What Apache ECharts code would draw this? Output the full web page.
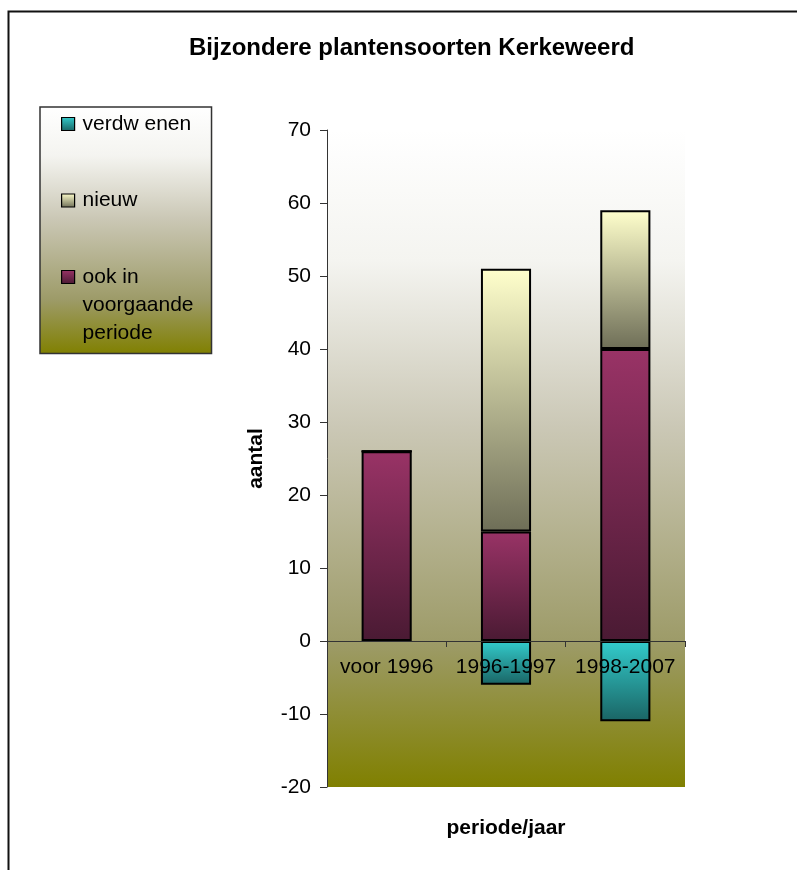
<!DOCTYPE html>
<html>
<head>
<meta charset="utf-8">
<script src="https://cdn.jsdelivr.net/npm/echarts@6/dist/echarts.min.js"></script>
<style>
html,body{margin:0;padding:0;background:#fff;}
#chart{width:797px;height:870px;}
</style>
</head>
<body>
<div id="chart"></div>
<script>
var titleText = 'Bijzondere plantensoorten Kerkeweerd';
var categories = ['voor 1996', '1996-1997', '1998-2007'];
var ookIn = [26, 15, 40];
var nieuw = [0, 36, 19];
var verdwenen = [0, -6, -11];
var yTicks = { min: -20, max: 70, interval: 10 };
var seriesNames = ['ook in voorgaande periode', 'nieuw', 'verdw enen'];
var legendLines = {
  'ook in voorgaande periode': ['ook in', 'voorgaande', 'periode'],
  'nieuw': ['nieuw'],
  'verdw enen': ['verdw enen']
};

var FONT = '"Liberation Sans", Arial, sans-serif';
function grad(c1, c2) {
  return new echarts.graphic.LinearGradient(0, 0, 0, 1, [{ offset: 0, color: c1 }, { offset: 1, color: c2 }]);
}
function bg() {
  return new echarts.graphic.LinearGradient(0, 0, 0, 1, [
    { offset: 0, color: '#ffffff' },
    { offset: 0.2, color: '#f4f4f0' },
    { offset: 0.45, color: '#cbc8b6' },
    { offset: 0.78, color: '#9d9b68' },
    { offset: 1, color: '#808000' }
  ]);
}

var chart = echarts.init(document.getElementById('chart'), null, { renderer: 'canvas' });
var option = {
  backgroundColor: '#ffffff',
  animation: false,
  textStyle: { fontFamily: FONT },
  title: {
    text: titleText,
    left: 189,
    top: 36,
    padding: 0,
    textStyle: { fontFamily: FONT, fontSize: 24, fontWeight: 'bold', color: '#000' }
  },
  graphic: [{
    type: 'rect',
    shape: { x: 8.5, y: 11.5, width: 900, height: 900 },
    style: { fill: 'none', stroke: '#111', lineWidth: 2 },
    silent: true,
    z: 100
  }],
  legend: {
    orient: 'vertical',
    left: 40,
    top: 107,
    padding: [3, 18, 10, 21],
    itemGap: 48.5,
    itemWidth: 13,
    itemHeight: 13,
    icon: 'rect',
    backgroundColor: bg(),
    borderColor: '#333',
    borderWidth: 1.5,
    itemStyle: { borderColor: '#000', borderWidth: 1.2 },
    textStyle: {
      fontFamily: FONT, fontSize: 21, color: '#000', lineHeight: 28, height: 28, padding: [0, 0, 0, 3],
      rich: { t: { fontFamily: FONT, fontSize: 21, color: '#000', lineHeight: 28 } }
    },
    formatter: function (n) {
      return legendLines[n].map(function (s) { return '{t|' + s + '}'; }).join('\n');
    },
    data: ['verdw enen', 'nieuw', 'ook in voorgaande periode']
  },
  grid: {
    left: 327, top: 130, width: 358, height: 657,
    show: true, backgroundColor: bg(), borderWidth: 0,
    containLabel: false,
    outerBoundsMode: 'none'
  },
  xAxis: {
    type: 'category',
    data: categories,
    z: 10,
    offset: -146,
    name: 'periode/jaar',
    nameLocation: 'middle',
    nameGap: 177,
    nameTextStyle: { fontFamily: FONT, fontSize: 21, fontWeight: 'bold', color: '#000' },
    axisLine: { onZero: false, lineStyle: { color: '#333', width: 1 } },
    axisTick: { show: true, length: 6, inside: false, interval: 0, lineStyle: { color: '#333' } },
    axisLabel: { margin: 16, fontFamily: FONT, fontSize: 21, color: '#000', interval: 0 },
    splitLine: { show: false }
  },
  yAxis: {
    type: 'value',
    min: yTicks.min, max: yTicks.max, interval: yTicks.interval,
    name: 'aantal',
    nameLocation: 'middle',
    nameRotate: 90,
    nameGap: 60,
    nameTextStyle: { fontFamily: FONT, fontSize: 21, fontWeight: 'bold', color: '#000' },
    axisLine: { show: true, lineStyle: { color: '#333', width: 1 } },
    axisTick: { show: true, length: 7, inside: false, lineStyle: { color: '#333' } },
    axisLabel: { margin: 16, fontFamily: FONT, fontSize: 21, color: '#000' },
    splitLine: { show: false }
  },
  series: [
    {
      name: seriesNames[0], type: 'bar', stack: 'a', data: ookIn, barWidth: '42%',
      itemStyle: { color: grad('#993366', '#4a1a33'), borderColor: '#000', borderWidth: 2 }
    },
    {
      name: seriesNames[1], type: 'bar', stack: 'a', data: nieuw, barWidth: '42%',
      itemStyle: { color: grad('#ffffcc', '#6e6e57'), borderColor: '#000', borderWidth: 2 }
    },
    {
      name: seriesNames[2], type: 'bar', stack: 'a', data: verdwenen, barWidth: '42%',
      itemStyle: { color: grad('#33cccc', '#1a6464'), borderColor: '#000', borderWidth: 2 }
    }
  ]
};
chart.setOption(option);
</script>
</body>
</html>
